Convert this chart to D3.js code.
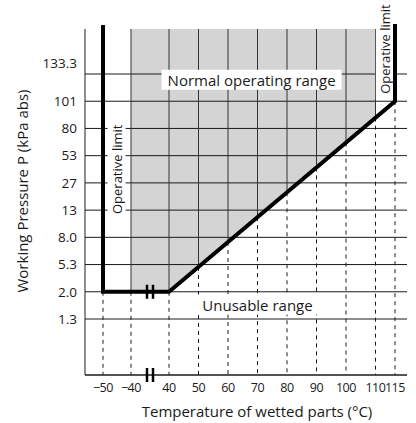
<!DOCTYPE html>
<html>
<head>
<meta charset="utf-8">
<script src="https://cdn.jsdelivr.net/npm/d3@7/dist/d3.min.js"></script>
<style>
body { margin: 0; background: #fff; }
text { font-family: "Open Sans", sans-serif; fill: #1a1a1a; }
</style>
</head>
<body>
<div id="chart"></div>
<script>
// temperature ticks (broken axis between -40 and 40)
var temps = [-50, -40, 40, 50, 60, 70, 80, 90, 100, 110, 115];
var tempLabels = ['\u221250', '\u221240', '40', '50', '60', '70', '80', '90', '100', '110', '115'];
// pressure ticks, top to bottom (not to scale)
var pressures = ['133.3', '101', '80', '53', '27', '13', '8.0', '5.3', '2.0', '1.3'];

// lower edge of the operating envelope
var edgeTemps = [-50, 40, 115];
var edgePress = ['2.0', '2.0', '101'];
// normal operating range, temperature span
var normalTemps = [-40, 110];

var width = 416;
var height = 423;
var plotTop = 29, plotBottom = 375, plotLeft = 85, plotRight = 407;

var svg = d3.select('#chart')
  .append('svg')
  .attr('width', width)
  .attr('height', height);

// piecewise scale, the gap stands for the axis break
var x = d3.scaleLinear()
  .domain([-50, -40, 40, 110, 115])
  .range([103, 131, 169, 375.5, 395]);

var y = d3.scalePoint()
  .domain(pressures)
  .range([74, 319]);

var edge = edgeTemps.map(function(t, i) { return [x(t), y(edgePress[i])]; });

// y of the lower edge at a given temperature
function edgeY(t) {
  var px = x(t);
  for (var i = 0; i < edge.length - 1; i++) {
    if (px <= edge[i + 1][0]) {
      var k = (px - edge[i][0]) / (edge[i + 1][0] - edge[i][0]);
      return edge[i][1] + k * (edge[i + 1][1] - edge[i][1]);
    }
  }
  return edge[edge.length - 1][1];
}

// shaded normal range
var t0 = normalTemps[0], t1 = normalTemps[1];
var area = [[x(t0), plotTop], [x(t1), plotTop], [x(t1), edgeY(t1)], [x(40), edgeY(40)], [x(t0), edgeY(t0)]];

svg.append('path')
  .attr('d', d3.line()(area) + 'Z')
  .attr('fill', '#d4d4d4');

// horizontal grid
svg.selectAll('.hgrid')
  .data(pressures)
  .enter().append('line')
  .attr('x1', plotLeft).attr('x2', plotRight)
  .attr('y1', function(d) { return y(d); })
  .attr('y2', function(d) { return y(d); })
  .attr('stroke', '#1a1a1a')
  .attr('stroke-width', 1);

// vertical grid: solid inside the envelope, dashed below it
svg.selectAll('.vsolid')
  .data(temps)
  .enter().append('line')
  .attr('x1', function(d) { return x(d); })
  .attr('x2', function(d) { return x(d); })
  .attr('y1', plotTop)
  .attr('y2', function(d) { return edgeY(d); })
  .attr('stroke', '#333')
  .attr('stroke-width', 1);

svg.selectAll('.vdash')
  .data(temps)
  .enter().append('line')
  .attr('x1', function(d) { return x(d); })
  .attr('x2', function(d) { return x(d); })
  .attr('y1', function(d) { return edgeY(d); })
  .attr('y2', plotBottom)
  .attr('stroke', '#1a1a1a')
  .attr('stroke-width', 1)
  .attr('stroke-dasharray', '4,4');

// axes lines
svg.append('line')
  .attr('x1', plotLeft).attr('x2', plotLeft)
  .attr('y1', plotTop).attr('y2', plotBottom)
  .attr('stroke', '#1a1a1a');
svg.append('line')
  .attr('x1', plotLeft).attr('x2', plotRight)
  .attr('y1', plotBottom).attr('y2', plotBottom)
  .attr('stroke', '#1a1a1a')
  .attr('stroke-width', 1.5);

// labels with white boxes
function boxedLabel(tx, ty, txt, rotate, size) {
  var g = svg.append('g')
    .attr('transform', 'translate(' + tx + ',' + ty + ')' + (rotate ? ' rotate(-90)' : ''));
  var rect = g.append('rect').attr('fill', '#fff');
  var t = g.append('text')
    .attr('text-anchor', 'middle')
    .attr('dy', '0.35em')
    .style('font-size', size + 'px')
    .text(txt);
  var b = t.node().getBBox();
  rect.attr('x', b.x - 6).attr('y', b.y)
    .attr('width', b.width + 12).attr('height', b.height);
}

boxedLabel(x(68), y('133.3') + 6.5, 'Normal operating range', false, 15);
boxedLabel(x(70), (y('2.0') + y('1.3')) / 2, 'Unusable range', false, 15);
boxedLabel((x(-50) + x(-40)) / 2, (y('53') + y('27')) / 2, 'Operative limit', true, 13);
boxedLabel((x(110) + x(115)) / 2, 49, 'Operative limit', true, 13);

// operative limit outline
var outline = [[x(-50), plotTop - 4]].concat(edge).concat([[x(115), plotTop - 5]]);
svg.append('path')
  .attr('d', d3.line()(outline))
  .attr('fill', 'none')
  .attr('stroke', '#000')
  .attr('stroke-width', 4)
  .attr('stroke-linejoin', 'miter');

// axis break marks
var bx = (x(-40) + x(40)) / 2;
[y('2.0'), plotBottom].forEach(function(by) {
  [-3, 3].forEach(function(dx) {
    svg.append('line')
      .attr('x1', bx + dx).attr('x2', bx + dx)
      .attr('y1', by - 7).attr('y2', by + 7)
      .attr('stroke', '#000')
      .attr('stroke-width', 2.5);
  });
});

// tick labels
svg.selectAll('.ylab')
  .data(pressures)
  .enter().append('text')
  .attr('x', 77)
  .attr('y', function(d, i) { return y(d) - (i === 0 ? 11 : 0); })
  .attr('dy', '0.35em')
  .attr('text-anchor', 'end')
  .style('font-size', '13.5px')
  .text(function(d) { return d; });

svg.selectAll('.xlab')
  .data(temps)
  .enter().append('text')
  .attr('x', function(d) { return x(d); })
  .attr('y', 388)
  .attr('dy', '0.35em')
  .attr('text-anchor', 'middle')
  .style('font-size', '12.5px')
  .style('letter-spacing', '-0.4px')
  .text(function(d, i) { return tempLabels[i]; });

// axis titles
svg.append('text')
  .attr('x', 257)
  .attr('y', 412)
  .attr('dy', '0.35em')
  .attr('text-anchor', 'middle')
  .style('font-size', '15px')
  .text('Temperature of wetted parts (\u00b0C)');

svg.append('text')
  .attr('transform', 'translate(23,191) rotate(-90)')
  .attr('dy', '0.35em')
  .attr('text-anchor', 'middle')
  .style('font-size', '15px')
  .text('Working Pressure P (kPa abs)');
</script>
</body>
</html>
